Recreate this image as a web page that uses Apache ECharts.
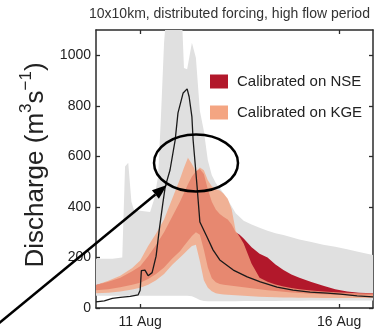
<!DOCTYPE html>
<html><head><meta charset="utf-8">
<script src="https://cdn.jsdelivr.net/npm/echarts@6/dist/echarts.min.js"></script>
<style>html,body{margin:0;padding:0;background:#fff}#c{width:383px;height:333px}</style>
</head><body><div id="c"></div>
<script>
// ---- data (x in days of August) ----
const yTicks = [0, 200, 400, 600, 800, 1000];
const xTickDays = [11, 16];
const xTickLabels = ['11 Aug', '16 Aug'];

const obsDays = [9.89, 10.1, 10.3, 10.5, 10.75, 10.95, 11.0, 11.03, 11.12, 11.2, 11.3, 11.4, 11.48, 11.57, 11.63, 11.75, 11.88, 11.95, 12.08, 12.18, 12.23, 12.3, 12.33, 12.38, 12.43, 12.5, 12.68, 12.83, 13.0, 13.34, 13.69, 14.02, 14.44, 14.84, 15.27, 15.7, 16.03, 16.45, 16.85];
const obsFlow = [24, 28, 38, 42, 46, 52, 70, 148, 150, 128, 140, 205, 310, 415, 480, 546, 665, 772, 851, 867, 836, 756, 665, 574, 480, 340, 281, 230, 190, 150, 123, 103, 83, 71, 63, 59, 55, 48, 44];

const grayDays = [9.89, 10.3, 10.55, 10.62, 10.7, 10.78, 10.85, 11.0, 11.25, 11.35, 11.45, 11.52, 11.6, 11.65, 12.05, 12.1, 12.18, 12.3, 12.4, 12.5, 12.6, 12.7, 12.8, 12.9, 13.0, 13.2, 13.4, 13.6, 13.8, 14.0, 14.2, 14.4, 14.6, 14.8, 15.0, 15.3, 15.6, 15.9, 16.2, 16.5, 16.85];
const grayLow = [48, 48, 48, 48, 48, 48, 48, 48, 48, 48, 48, 48, 48, 48, 48, 48, 48, 46, 40, 32, 28, 27, 27, 27, 27, 27, 27, 28, 28, 28, 28, 28, 29, 29, 29, 30, 30, 30, 30, 30, 30];
const grayHigh = [195, 195, 200, 560, 575, 420, 385, 385, 380, 430, 520, 750, 1050, 1150, 1150, 950, 945, 1050, 990, 780, 700, 585, 525, 495, 475, 428, 375, 345, 330, 318, 306, 296, 289, 280, 271, 261, 250, 242, 232, 222, 210];

const bandDays = [9.89, 10.2, 10.5, 10.8, 11.0, 11.2, 11.4, 11.6, 11.8, 12.0, 12.1, 12.2, 12.3, 12.4, 12.5, 12.6, 12.7, 12.8, 12.9, 13.0, 13.1, 13.2, 13.3, 13.4, 13.5, 13.6, 13.8, 14.0, 14.2, 14.4, 14.6, 14.8, 15.0, 15.3, 15.6, 15.9, 16.2, 16.5, 16.85];
const kgeLow  = [58, 60, 65, 73, 80, 92, 110, 135, 170, 200, 215, 230, 245, 250, 185, 110, 80, 66, 58, 55, 53, 52, 51, 50, 49, 48, 46, 45, 44, 43, 42, 42, 41, 41, 40, 40, 40, 40, 40];
const kgeHigh = [91, 108, 128, 158, 188, 245, 295, 350, 430, 510, 555, 595, 570, 540, 556, 545, 505, 482, 470, 465, 452, 432, 390, 305, 282, 255, 175, 120, 104, 93, 85, 79, 74, 69, 65, 62, 60, 58, 57];
const nseLow  = [70, 74, 82, 92, 100, 115, 135, 160, 195, 225, 245, 265, 285, 300, 290, 230, 160, 118, 102, 95, 92, 90, 88, 86, 84, 82, 78, 74, 70, 67, 64, 61, 59, 56, 54, 52, 51, 50, 49];
const nseHigh = [91, 104, 120, 145, 165, 205, 250, 300, 360, 420, 455, 490, 520, 540, 550, 530, 470, 420, 390, 372, 360, 350, 330, 300, 290, 275, 240, 215, 200, 172, 150, 133, 120, 103, 88, 74, 65, 60, 58];

// ---- build ----
const FONT = 'Liberation Sans, Arial, sans-serif';
const AX = '#2b2b2b';
function pairs(xs, ys) { return xs.map((x, i) => [x, ys[i]]); }

function band(name, xs, lo, hi, color, opacity) {
  return {
    type: 'custom', name: name, silent: true, z: 2,
    itemStyle: { color: color },
    data: [[xs[0], lo[0]]],
    renderItem: function (params, api) {
      const pts = [];
      for (let i = 0; i < xs.length; i++) pts.push(api.coord([xs[i], hi[i]]));
      for (let i = xs.length - 1; i >= 0; i--) pts.push(api.coord([xs[i], lo[i]]));
      const cs = params.coordSys;
      return {
        type: 'polygon', shape: { points: pts },
        style: { fill: color, opacity: opacity, stroke: null },
        clipPath: { type: 'rect', shape: { x: cs.x, y: cs.y, width: cs.width, height: cs.height } }
      };
    }
  };
}

const series = [
  band('ensemble', grayDays, grayLow, grayHigh, '#e0e0e0', 1),
  band('Calibrated on NSE', bandDays, nseLow, nseHigh, '#b2182b', 1),
  band('Calibrated on KGE', bandDays, kgeLow, kgeHigh, '#f4a582', 0.8),
  { type: 'line', name: 'observed', data: pairs(obsDays, obsFlow), symbol: 'none',
    lineStyle: { color: '#1a1a1a', width: 1.3 }, z: 3, silent: true }
];

const axLine = { show: true, onZero: false, lineStyle: { color: AX, width: 1.5 } };
const tick = (vals) => ({ show: true, inside: true, length: 4, customValues: vals, lineStyle: { color: AX, width: 1.3 } });

const option = {
  animation: false,
  backgroundColor: '#fff',
  title: { text: '10x10km, distributed forcing, high flow period', left: 89, top: 7, padding: 0,
    textStyle: { fontSize: 14, fontWeight: 'normal', color: '#333', fontFamily: FONT } },
  legend: { data: ['Calibrated on NSE', 'Calibrated on KGE'], orient: 'vertical', left: 210, top: 74,
    padding: 0, itemWidth: 18, itemHeight: 14, itemGap: 16, icon: 'rect', selectedMode: false,
    textStyle: { fontSize: 15, color: '#222', fontFamily: FONT, padding: [0, 0, 0, 4] } },
  grid: { left: 96, right: 10, top: 30, bottom: 25, containLabel: false },
  xAxis: [
    { type: 'value', min: 9.89, max: 16.85, position: 'bottom', axisLine: axLine, axisTick: tick(xTickDays),
      splitLine: { show: false },
      axisLabel: { customValues: xTickDays, formatter: v => xTickLabels[xTickDays.indexOf(v)] || '',
        fontSize: 14, color: '#222', margin: 7, fontFamily: FONT } },
    { type: 'value', min: 9.89, max: 16.85, position: 'top', axisLine: axLine, axisTick: tick(xTickDays),
      splitLine: { show: false }, axisLabel: { show: false } }
  ],
  yAxis: [
    { type: 'value', min: 0, max: 1100, position: 'left', axisLine: axLine, axisTick: tick(yTicks),
      splitLine: { show: false },
      axisLabel: { customValues: yTicks, formatter: v => String(v), fontSize: 14, color: '#222', margin: 5, fontFamily: FONT } },
    { type: 'value', min: 0, max: 1100, position: 'right', axisLine: axLine, axisTick: tick(yTicks),
      splitLine: { show: false }, axisLabel: { show: false } }
  ],
  series: series,
  graphic: [
    { type: 'text', x: 33, y: 165, rotation: Math.PI / 2, z: 100,
      style: { text: '{m|Discharge (m}{s|3}{m|s}{s|\u22121}{m|)}', align: 'center', verticalAlign: 'middle',
        fill: '#222', fontFamily: FONT, fontSize: 26,
        rich: { m: { fontSize: 26, fontFamily: FONT, fill: '#222', verticalAlign: 'bottom', lineHeight: 31 },
                s: { fontSize: 17, fontFamily: FONT, fill: '#222', verticalAlign: 'top', lineHeight: 19 } } } },
    { type: 'ellipse', z: 100, shape: { cx: 196, cy: 163, rx: 42, ry: 28.5 },
      style: { fill: null, stroke: '#000', lineWidth: 2.5 } },
    { type: 'line', z: 100, shape: { x1: -2, y1: 324, x2: 155.4, y2: 194.5 },
      style: { stroke: '#000', lineWidth: 2.5 } },
    { type: 'polygon', z: 100, shape: { points: [[167, 185], [158.9, 198.7], [151.9, 190.3]] },
      style: { fill: '#000' } }
  ]
};

const chart = echarts.init(document.getElementById('c'), null, { renderer: 'canvas' });
chart.setOption(option);
</script>
</body></html>
